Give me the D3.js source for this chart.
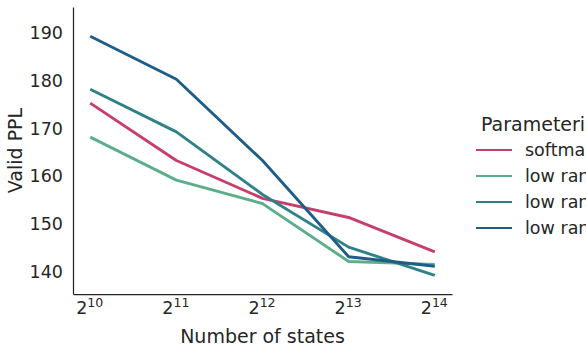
<!DOCTYPE html>
<html>
<head>
<meta charset="utf-8">
<script src="https://cdn.jsdelivr.net/npm/d3@7"></script>
<style>
  body { margin: 0; background: #fff; overflow: hidden; }
  text { font-family: "DejaVu Sans", sans-serif; fill: #262626; }
</style>
</head>
<body>
<div id="chart-area"></div>
<script>
// exponents of 2 for the number of states
var states = [10, 11, 12, 13, 14];
var seriesNames = ["softmax", "low rank 128", "low rank 256", "low rank 512"];
var softmaxPPL = [175.3, 163.3, 155.4, 151.4, 144.2];
var lowRank128PPL = [168.2, 159.2, 154.3, 142.2, 141.6];
var lowRank256PPL = [178.2, 169.3, 156.2, 145.2, 139.3];
var lowRank512PPL = [189.3, 180.3, 163.3, 143.2, 141.2];
var yTicks = [140, 150, 160, 170, 180, 190];
var colors = ["#c53f6a", "#5cae8b", "#2e8287", "#1f5d89"];

var series = [softmaxPPL, lowRank128PPL, lowRank256PPL, lowRank512PPL];

var margin = {top: 7, left: 73, bottom: 60, right: 134},
    width = 586 - margin.left - margin.right,
    height = 354 - margin.top - margin.bottom;

var svg = d3.select("#chart-area").append("svg")
    .attr("width", 586)
    .attr("height", 354)
var g = svg.append("g")
    .attr("transform", "translate(" + margin.left + ", " + margin.top + ")");

var x = d3.scaleLinear().domain([9.8, 14.2]).range([0, width]);
var y = d3.scaleLinear().domain([135.4, 195.4]).range([height, 0]);

var xAxis = g.append("g")
    .attr("transform", "translate(0, " + height + ")")
    .call(d3.axisBottom(x).tickValues(states).tickSize(0).tickPadding(10).tickFormat(""))
var yAxis = g.append("g")
    .call(d3.axisLeft(y).tickValues(yTicks).tickSize(0).tickPadding(10))

g.selectAll(".domain").attr("stroke", "#262626").attr("stroke-width", 1.25)
yAxis.selectAll("text").style("font-size", "17.5px")

// superscript tick labels for powers of two
xAxis.selectAll(".tick text")
    .attr("dy", "1em")
    .each(function(d) {
        var t = d3.select(this);
        t.append("tspan").style("font-size", "17.5px").text("2");
        t.append("tspan").style("font-size", "12.5px").attr("dy", "-0.55em").text(d);
    })
    .attr("dx", "-0.1em")

var line = d3.line()
    .x((d, i) => {return x(states[i])})
    .y((d) => {return y(d)});

series.forEach((s, k) => {
    g.append("path")
        .attr("fill", "none")
        .attr("stroke", colors[k])
        .attr("stroke-width", 2.9)
        .attr("stroke-linejoin", "round")
        .attr("d", line(s))
})

g.append("text")
    .attr("x", width / 2)
    .attr("y", height + 49)
    .attr("text-anchor", "middle")
    .style("font-size", "19px")
    .text("Number of states")

g.append("text")
    .attr("transform", "translate(-51, " + (height / 2) + ") rotate(-90)")
    .attr("text-anchor", "middle")
    .style("font-size", "19px")
    .text("Valid PPL")

var legend = svg.append("g")
    .attr("transform", "translate(476, 124)")
legend.append("text")
    .attr("x", 5)
    .attr("y", 7)
    .style("font-size", "19px")
    .text("Parameterization")

seriesNames.forEach((name, k) => {
    var row = legend.append("g").attr("transform", "translate(0, " + (26 + k * 26) + ")")
    row.append("line")
        .attr("x1", 0).attr("x2", 36)
        .attr("stroke", colors[k])
        .attr("stroke-width", 2)
    row.append("text")
        .attr("x", 49)
        .attr("y", 6)
        .style("font-size", "17.5px")
        .text(name)
})
</script>
</body>
</html>
